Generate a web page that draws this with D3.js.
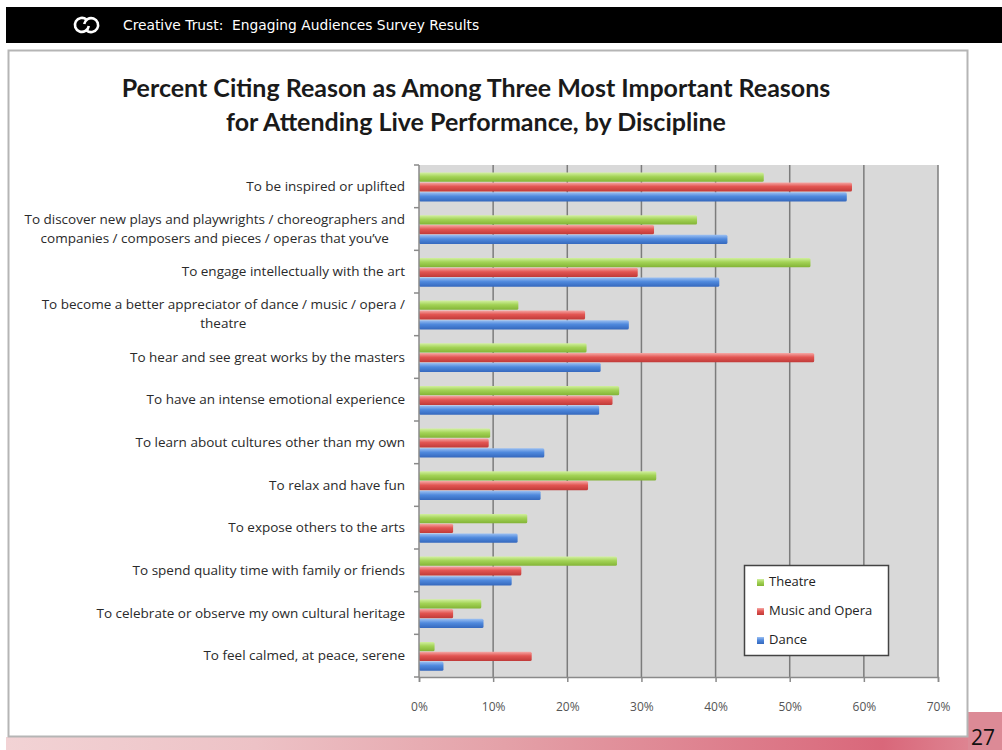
<!DOCTYPE html>
<html>
<head>
    <title>Percent Citing Reason - D3.js</title>
    <script src="https://d3js.org/d3.v7.min.js"></script>
    <style>
        body { margin: 0; background: white; }
        text { font-family: "Open Sans", Lato, sans-serif; }
    </style>
</head>
<body>
    <div id="chart"></div>

    <script>
const categories = [
  "To be inspired or uplifted",
  "To discover new plays and playwrights / choreographers and\ncompanies / composers and pieces / operas that you\u2019ve",
  "To engage intellectually with the art",
  "To become a better appreciator of dance / music / opera /\ntheatre",
  "To hear and see great works by the masters",
  "To have an intense emotional experience",
  "To learn about cultures other than my own",
  "To relax and have fun",
  "To expose others to the arts",
  "To spend quality time with family or friends",
  "To celebrate or observe my own cultural heritage",
  "To feel calmed, at peace, serene"
];

const series = ["Theatre", "Music and Opera", "Dance"];

const theatre = [46.5, 37.5, 52.8, 13.4, 22.6, 27.0, 9.6, 32.0, 14.6, 26.7, 8.4, 2.1];
const musicOpera = [58.4, 31.7, 29.5, 22.4, 53.3, 26.1, 9.4, 22.8, 4.6, 13.8, 4.6, 15.2];
const dance = [57.7, 41.6, 40.5, 28.3, 24.5, 24.3, 16.9, 16.4, 13.3, 12.5, 8.7, 3.3];

const xTicks = [0, 10, 20, 30, 40, 50, 60, 70];

const title = [
  "Percent Citing Reason as Among Three Most Important Reasons",
  "for Attending Live Performance, by Discipline"
];
const header = "Creative Trust:  Engaging Audiences Survey Results";
const pageNumber = "27";

const values = [theatre, musicOpera, dance];
const data = [];
categories.forEach((c, i) => {
  series.forEach((s, j) => {
    data.push({ category: c, series: s, value: values[j][i] });
  });
});

const width = 1002;
const height = 750;

const svg = d3.select("#chart")
    .append("svg")
    .attr("width", width)
    .attr("height", height);

const defs = svg.append("defs");

// bar colours with a glossy top-to-bottom shading
const colors = {
  "Theatre": ["#d2f0a0", "#a3d356", "#83b436"],
  "Music and Opera": ["#f6a9a6", "#e25552", "#c03a38"],
  "Dance": ["#9cc0f2", "#4f89dd", "#3568bd"]
};
series.forEach((s, i) => {
  const g = defs.append("linearGradient")
      .attr("id", "grad" + i)
      .attr("x1", 0).attr("y1", 0).attr("x2", 0).attr("y2", 1);
  g.append("stop").attr("offset", "0%").attr("stop-color", colors[s][0]);
  g.append("stop").attr("offset", "45%").attr("stop-color", colors[s][1]);
  g.append("stop").attr("offset", "100%").attr("stop-color", colors[s][2]);
});

const band = defs.append("linearGradient")
    .attr("id", "band")
    .attr("x1", 0).attr("y1", 0).attr("x2", 1).attr("y2", 0);
band.append("stop").attr("offset", "0%").attr("stop-color", "#f2d3d5");
band.append("stop").attr("offset", "25%").attr("stop-color", "#edc2c6");
band.append("stop").attr("offset", "50%").attr("stop-color", "#e4a1a8");
band.append("stop").attr("offset", "88%").attr("stop-color", "#d9677a");
band.append("stop").attr("offset", "100%").attr("stop-color", "#e08f9a");

// page header
svg.append("rect")
    .attr("x", 6).attr("y", 7)
    .attr("width", 996).attr("height", 36)
    .attr("fill", "black");

// linked-rings logo
svg.append("path")
    .attr("d", "M86.5,19.6 A7,7 0 1 0 88.8,26")
    .attr("fill", "none").attr("stroke", "white").attr("stroke-width", 2.6);
svg.append("path")
    .attr("d", "M86.5,30.4 A7,7 0 1 0 84.2,24")
    .attr("fill", "none").attr("stroke", "white").attr("stroke-width", 2.6);

svg.append("text")
    .attr("x", 123).attr("y", 30)
    .attr("fill", "white")
    .style("font-family", "'DejaVu Sans', sans-serif")
    .style("font-size", "13.8px")
    .style("white-space", "pre")
    .text(header);

// bottom decorative band and page number block
svg.append("rect")
    .attr("x", 6).attr("y", 737)
    .attr("width", 996).attr("height", 13)
    .attr("fill", "url(#band)");
svg.append("rect")
    .attr("x", 968).attr("y", 712)
    .attr("width", 34).attr("height", 38)
    .attr("fill", "#dc8a96");
svg.append("text")
    .attr("x", 971).attr("y", 745)
    .attr("fill", "#111")
    .style("font-size", "21px")
    .text(pageNumber);

// chart frame
svg.append("rect")
    .attr("x", 8.5).attr("y", 50.5)
    .attr("width", 959).attr("height", 686)
    .attr("fill", "white")
    .attr("stroke", "#b5b5b5")
    .attr("stroke-width", 2);

svg.append("g")
    .selectAll("text")
    .data(title)
    .enter()
    .append("text")
    .attr("x", 476)
    .attr("y", (d, i) => 97 + i * 34)
    .attr("text-anchor", "middle")
    .attr("fill", "#1a1a1a")
    .style("font-family", "Lato, sans-serif")
    .style("font-size", "25px")
    .style("font-weight", "bold")
    .text(d => d);

const xScale = d3.scaleLinear()
    .domain([0, 70])
    .range([419, 938]);

const yScale = d3.scaleBand()
    .domain(categories)
    .range([165, 677]);

const innerScale = d3.scaleBand()
    .domain(series)
    .range([7, 37])
    .padding(0.06);

// plot area
svg.append("rect")
    .attr("x", xScale(0)).attr("y", 165)
    .attr("width", xScale(70) - xScale(0)).attr("height", 512)
    .attr("fill", "#d9d9d9");

svg.selectAll(".grid")
    .data(xTicks.slice(1))
    .enter()
    .append("line")
    .attr("class", "grid")
    .attr("x1", d => xScale(d)).attr("x2", d => xScale(d))
    .attr("y1", 165).attr("y2", 677)
    .attr("stroke", "#7c7c7c")
    .attr("stroke-width", 1.5);

// bars
svg.selectAll(".bar")
    .data(data)
    .enter()
    .append("rect")
    .attr("class", "bar")
    .attr("x", xScale(0))
    .attr("y", d => yScale(d.category) + innerScale(d.series))
    .attr("width", d => xScale(d.value) - xScale(0))
    .attr("height", innerScale.bandwidth())
    .attr("rx", 1.5)
    .attr("fill", d => "url(#grad" + series.indexOf(d.series) + ")");

// x axis
const xAxis = svg.append("g")
    .attr("transform", "translate(0,677)")
    .call(d3.axisBottom(xScale)
        .tickValues(xTicks)
        .tickFormat(d => d + "%")
        .tickSize(5)
        .tickPadding(20));
xAxis.select(".domain").attr("stroke", "#8a8a8a").attr("stroke-width", 1.5);
xAxis.selectAll(".tick line").attr("stroke", "#8a8a8a").attr("stroke-width", 1.5);
xAxis.selectAll(".tick text")
    .attr("fill", "#555")
    .style("font-size", "12px")
    .style("font-family", "'Open Sans', sans-serif");

// y axis line and category boundary ticks
const boundaries = categories.map(c => yScale(c)).concat([677]);
svg.append("line")
    .attr("x1", xScale(0)).attr("x2", xScale(0))
    .attr("y1", 165).attr("y2", 677)
    .attr("stroke", "#8a8a8a").attr("stroke-width", 1.5);
svg.selectAll(".ytick")
    .data(boundaries)
    .enter()
    .append("line")
    .attr("class", "ytick")
    .attr("x1", xScale(0) - 5).attr("x2", xScale(0))
    .attr("y1", d => d).attr("y2", d => d)
    .attr("stroke", "#8a8a8a").attr("stroke-width", 1.5);

// category labels (wrapped lines are centred on each other, right edge at 405)
const labels = svg.selectAll(".label")
    .data(categories)
    .enter()
    .append("text")
    .attr("class", "label")
    .attr("fill", "#2a2a2a")
    .style("font-size", "13.5px");

labels.each(function(d) {
  const lines = d.split("\n");
  const t = d3.select(this);
  const mid = yScale(d) + yScale.bandwidth() / 2 + 1;
  const spans = lines.map((l, i) => t.append("tspan")
      .attr("y", mid + (i - (lines.length - 1) / 2) * 19)
      .attr("dominant-baseline", "middle")
      .text(l));
  const widest = d3.max(spans, s => s.node().getComputedTextLength());
  const center = 405 - widest / 2;
  spans.forEach(s => s.attr("x", center).attr("text-anchor", "middle"));
});

// legend
const legend = svg.append("g");
legend.append("rect")
    .attr("x", 744.5).attr("y", 565.5)
    .attr("width", 144).attr("height", 90)
    .attr("fill", "white")
    .attr("stroke", "#444")
    .attr("stroke-width", 1.5);

const items = legend.selectAll(".item")
    .data(series)
    .enter()
    .append("g")
    .attr("class", "item")
    .attr("transform", (d, i) => "translate(757," + (583 + i * 29) + ")");
items.append("rect")
    .attr("x", 0).attr("y", -4)
    .attr("width", 7).attr("height", 7)
    .attr("fill", (d, i) => "url(#grad" + i + ")");
items.append("text")
    .attr("x", 12).attr("y", 0)
    .attr("dominant-baseline", "middle")
    .attr("fill", "#222")
    .style("font-size", "13px")
    .text(d => d);
    </script>
</body>
</html>
